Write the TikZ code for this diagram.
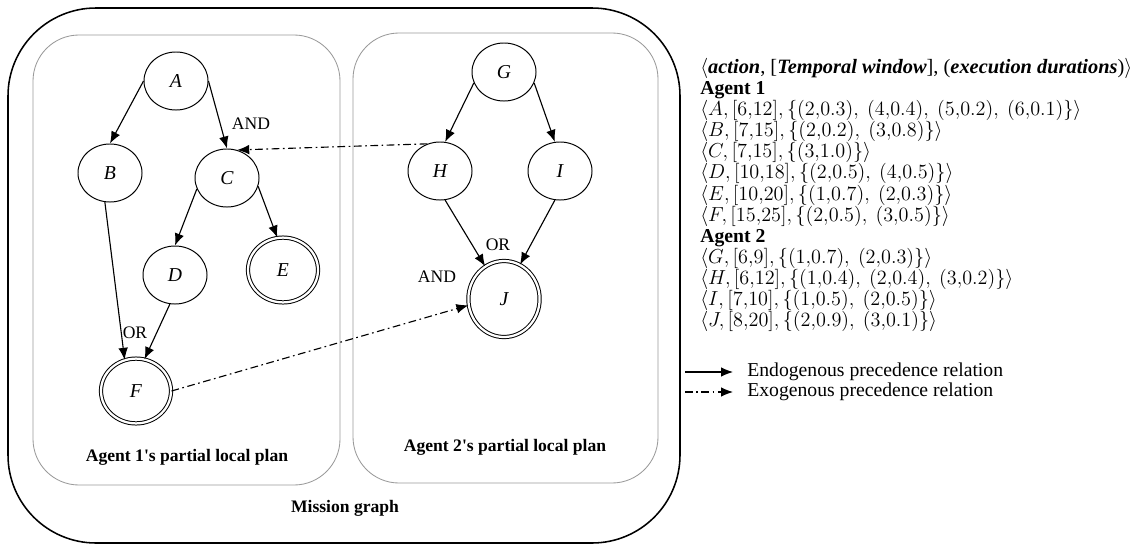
\documentclass[tikz,border=0pt]{standalone}
\usepackage{amsmath}
\usepackage{fontspec}
\setmainfont{Liberation Serif}
\usetikzlibrary{arrows.meta,shapes.geometric}
\definecolor{boxgray}{gray}{0.6}
\newcommand{\act}[3]{$\langle #1, [#2], \{#3\}\rangle$}

\begin{document}
\begin{tikzpicture}[x=0.025cm, y=-0.025cm, act/.style={draw,ellipse,line width=0.7pt,minimum width=1.6cm,minimum height=1.45cm,inner sep=0pt,font=\fontsize{14}{16}\selectfont\itshape}, fin/.style={act,double,double distance=1.6pt,minimum width=1.75cm,minimum height=1.62cm}, plan/.style={draw=boxgray,line width=0.6pt,rounded corners=1.15cm}, endo/.style={-{Latex[length=3mm,width=2.4mm]},line width=0.8pt}, exo/.style={endo,dash pattern=on 5.5pt off 2.5pt on 1.2pt off 2.5pt}, lbl/.style={font=\fontsize{12.5}{14}\selectfont}, ttl/.style={font=\fontsize{12.5}{14}\selectfont\bfseries}]
\useasboundingbox (0,0) rectangle (1148,546);
\draw[line width=1.1pt,rounded corners=2.2cm] (8,8) rectangle (680,543);
\draw[plan] (33,35) rectangle (340,485);
\draw[plan] (353,33) rectangle (658,483);
\node[act] (A) at (176,81) {A};
\node[act] (B) at (110,173) {B};
\node[act] (C) at (227,178) {C};
\node[act] (D) at (175,275) {D};
\node[fin] (E) at (283,270) {E};
\node[fin] (F) at (136,391) {F};
\node[act] (G) at (504,72) {G};
\node[act] (H) at (440,171) {H};
\node[act] (I) at (560,171) {I};
\node[fin,minimum width=1.78cm,minimum height=1.9cm] (J) at (504,299) {J};
\node[lbl] (and1) at (251,124) {AND};
\node[lbl] (or1) at (135,333) {OR};
\node[lbl] (or2) at (498,245) {OR};
\node[lbl] (and2) at (437,277) {AND};
\node[ttl] (plan1) at (187,457) {Agent 1\textquotesingle s partial local plan};
\node[ttl] (plan2) at (505,447) {Agent 2\textquotesingle s partial local plan};
\node[ttl] (mission) at (345,508) {Mission graph};
\draw[endo] (A.west) -- (B.north); \draw[endo] (A.east) -- (C.north);
\draw[endo] (B.260) -- (F.110); \draw[endo] (C.200) -- (D.north); \draw[endo] (C.345) -- (E.100); \draw[endo] (D.260) -- (F.75);
\draw[endo] (G.200) -- (H.80); \draw[endo] (G.340) -- (I.100); \draw[endo] (H.280) -- (J.120); \draw[endo] (I.260) -- (J.65);
\draw[exo] (H.115) -- (C.70); \draw[exo] (F.east) -- (J.190);
\node[anchor=north west,align=left,inner sep=0pt,font=\fontsize{14}{15}\selectfont] (tbl) at (700,58) {%
{\fontsize{14.5}{15}\selectfont$\langle$\textbf{\textit{action}}, [\textbf{\textit{Temporal window}}], (\textbf{\textit{execution durations}})$\rangle$}\\
\textbf{Agent 1}\\
\act{A}{6{,}12}{(2{,}0.3),\ (4{,}0.4),\ (5{,}0.2),\ (6{,}0.1)}\\
\act{B}{7{,}15}{(2{,}0.2),\ (3{,}0.8)}\\
\act{C}{7{,}15}{(3{,}1.0)}\\
\act{D}{10{,}18}{(2{,}0.5),\ (4{,}0.5)}\\
\act{E}{10{,}20}{(1{,}0.7),\ (2{,}0.3)}\\
\act{F}{15{,}25}{(2{,}0.5),\ (3{,}0.5)}\\
\textbf{Agent 2}\\
\act{G}{6{,}9}{(1{,}0.7),\ (2{,}0.3)}\\
\act{H}{6{,}12}{(1{,}0.4),\ (2{,}0.4),\ (3{,}0.2)}\\
\act{I}{7{,}10}{(1{,}0.5),\ (2{,}0.5)}\\
\act{J}{8{,}20}{(2{,}0.9),\ (3{,}0.1)}};
\coordinate (e1) at (685,372); \coordinate (e2) at (733,372);
\coordinate (x1) at (685,392); \coordinate (x2) at (733,392);
\draw[endo] (e1) -- (e2); \draw[exo] (x1) -- (x2);
\node[anchor=west,inner sep=0pt,font=\fontsize{14}{16}\selectfont] (endotxt) at (747,372) {Endogenous precedence relation};
\node[anchor=west,inner sep=0pt,font=\fontsize{14}{16}\selectfont] (exotxt) at (747,392) {Exogenous precedence relation};
\end{tikzpicture}
\end{document}
